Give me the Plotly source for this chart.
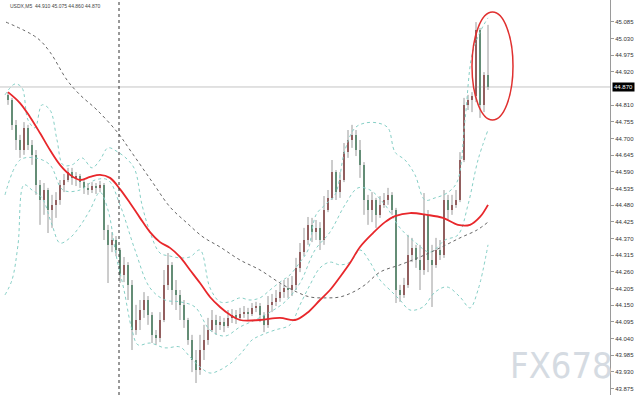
import plotly.graph_objects as go

# ---------------- data (USDX, M5) ----------------
first_open = 44.844
close = [44.827, 44.745, 44.695, 44.662, 44.735, 44.679, 44.646, 44.547, 44.497, 44.530,
         44.464, 44.481, 44.497, 44.547, 44.563, 44.589, 44.570, 44.576, 44.556, 44.537,
         44.530, 44.543, 44.537, 44.547, 44.398, 44.349, 44.365, 44.332, 44.250, 44.283,
         44.217, 44.068, 44.101, 44.134, 44.167, 44.118, 44.052, 44.042, 44.101, 44.217,
         44.283, 44.200, 44.184, 44.151, 44.101, 44.035, 43.969, 43.936, 44.002, 44.035,
         44.068, 44.101, 44.085, 44.094, 44.081, 44.108, 44.118, 44.108, 44.121, 44.127,
         44.121, 44.141, 44.147, 44.118, 44.085, 44.151, 44.161, 44.174, 44.193, 44.207,
         44.200, 44.217, 44.273, 44.325, 44.365, 44.415, 44.391, 44.405, 44.365, 44.464,
         44.504, 44.589, 44.523, 44.563, 44.655, 44.695, 44.712, 44.662, 44.613, 44.497,
         44.464, 44.497, 44.448, 44.481, 44.497, 44.514, 44.464, 44.200, 44.184, 44.217,
         44.316, 44.339, 44.299, 44.266, 44.448, 44.299, 44.283, 44.332, 44.316, 44.497,
         44.464, 44.481, 44.497, 44.629, 44.811, 44.827, 44.840, 45.058, 44.811, 44.910,
         44.870]
high = [44.853, 44.834, 44.761, 44.712, 44.754, 44.745, 44.695, 44.662, 44.563, 44.553,
        44.537, 44.514, 44.523, 44.563, 44.583, 44.603, 44.603, 44.589, 44.583, 44.563,
        44.553, 44.556, 44.553, 44.560, 44.553, 44.415, 44.391, 44.378, 44.339, 44.309,
        44.292, 44.233, 44.151, 44.167, 44.193, 44.180, 44.127, 44.068, 44.127, 44.266,
        44.322, 44.292, 44.233, 44.200, 44.167, 44.108, 44.052, 44.002, 44.052, 44.085,
        44.108, 44.134, 44.118, 44.114, 44.108, 44.134, 44.137, 44.134, 44.141, 44.147,
        44.141, 44.157, 44.161, 44.157, 44.127, 44.180, 44.187, 44.200, 44.220, 44.233,
        44.240, 44.246, 44.306, 44.355, 44.405, 44.441, 44.438, 44.431, 44.424, 44.510,
        44.530, 44.629, 44.596, 44.589, 44.685, 44.728, 44.745, 44.728, 44.695, 44.622,
        44.514, 44.523, 44.504, 44.510, 44.520, 44.537, 44.523, 44.471, 44.217, 44.240,
        44.382, 44.372, 44.349, 44.349, 44.520, 44.464, 44.349, 44.372, 44.365, 44.530,
        44.514, 44.514, 44.530, 44.655, 44.834, 44.844, 44.853, 45.084, 45.065, 44.919,
        45.075]
low = [44.811, 44.728, 44.662, 44.636, 44.646, 44.662, 44.613, 44.514, 44.415, 44.448,
       44.388, 44.405, 44.438, 44.481, 44.523, 44.556, 44.547, 44.543, 44.537, 44.517,
       44.514, 44.520, 44.517, 44.523, 44.365, 44.223, 44.325, 44.312, 44.223, 44.226,
       44.167, 44.002, 44.052, 44.068, 44.108, 44.085, 44.025, 44.019, 44.028, 44.094,
       44.200, 44.151, 44.134, 44.101, 44.075, 44.019, 43.929, 43.893, 43.920, 43.969,
       44.019, 44.061, 44.052, 44.068, 44.061, 44.075, 44.091, 44.088, 44.101, 44.108,
       44.101, 44.114, 44.127, 44.094, 44.061, 44.075, 44.127, 44.147, 44.161, 44.174,
       44.174, 44.180, 44.200, 44.259, 44.312, 44.349, 44.358, 44.365, 44.332, 44.349,
       44.457, 44.497, 44.497, 44.504, 44.556, 44.636, 44.669, 44.642, 44.570, 44.448,
       44.415, 44.424, 44.405, 44.438, 44.471, 44.481, 44.448, 44.157, 44.161, 44.174,
       44.207, 44.292, 44.273, 44.200, 44.250, 44.259, 44.144, 44.273, 44.299, 44.306,
       44.431, 44.448, 44.471, 44.490, 44.622, 44.794, 44.787, 44.820, 44.768, 44.787,
       44.860]

# moving averages / bands (bar index, price)
ma_red_x = [0, 3, 5.5, 8, 10.5, 13, 15.5, 18, 20.5, 23, 25.5, 28, 30.5, 33, 35.5, 38, 40.5, 43,
            45.5, 48, 50.5, 53, 55.5, 58, 63, 68, 71.75, 74.75, 78, 80.5, 83, 85.5, 88, 91.25,
            94.25, 96.75, 100.5, 104.75, 108.75, 112.5, 115.5, 118, 120]
ma_red_y = [44.853, 44.817, 44.771, 44.718, 44.662, 44.613, 44.580, 44.563, 44.573, 44.580,
            44.570, 44.533, 44.487, 44.438, 44.391, 44.358, 44.339, 44.309, 44.266, 44.223,
            44.177, 44.144, 44.118, 44.101, 44.101, 44.108, 44.101, 44.124, 44.167, 44.200,
            44.243, 44.289, 44.342, 44.388, 44.424, 44.444, 44.454, 44.448, 44.438, 44.415,
            44.415, 44.441, 44.481]
ma_slow_x = [-0.5, 7.25, 10.5, 14.75, 18, 22.25, 27.5, 30.5, 36.25, 40.5, 44.75, 48.75, 53, 58,
             63, 68, 72.25, 75.5, 79.75, 83, 86.25, 89.25, 93, 98, 103, 108, 113, 117.25, 120]
ma_slow_y = [45.084, 45.032, 44.985, 44.893, 44.844, 44.794, 44.718, 44.662, 44.553, 44.474,
             44.421, 44.375, 44.342, 44.299, 44.266, 44.223, 44.193, 44.177, 44.174, 44.177,
             44.193, 44.217, 44.259, 44.283, 44.309, 44.339, 44.372, 44.398, 44.424]
bb_up_x = [-0.75, 1.75, 3.5, 5, 6.75, 8.5, 10.5, 12.25, 13.75, 16, 18.5, 21, 23, 25, 27.5, 30,
           31.75, 33.5, 35.5, 38, 40.5, 43, 45.5, 48, 50.5, 53, 55.5, 58, 60.5, 63, 65.5, 68,
           70.5, 73, 75, 77, 79.25, 81.75, 84.25, 86.75, 89.25, 92.5, 95, 96.75, 99.25,
           101.75, 104.25, 106.75, 109.75, 112.25, 114.25, 116, 118, 120]
bb_up_y = [44.844, 44.880, 44.867, 44.761, 44.735, 44.811, 44.794, 44.695, 44.613, 44.613,
           44.636, 44.603, 44.629, 44.669, 44.655, 44.629, 44.596, 44.481, 44.391, 44.322,
           44.312, 44.306, 44.309, 44.332, 44.207, 44.161, 44.161, 44.174, 44.167, 44.174,
           44.200, 44.226, 44.250, 44.292, 44.332, 44.448, 44.481, 44.514, 44.662, 44.735,
           44.751, 44.751, 44.735, 44.655, 44.629, 44.580, 44.497, 44.504, 44.520, 44.556,
           44.761, 44.976, 45.051, 45.098]
bb_mid_x = [-0.75, 3, 6.75, 10.5, 13.75, 18, 21.75, 25, 28, 31.75, 35.5, 39.25, 43, 46.75, 50.5,
            54.25, 58, 61.75, 65.5, 69.25, 73, 76.75, 80.5, 84.25, 87.5, 90.5, 94.25, 98,
            101.75, 105.5, 109.25, 112.5, 115, 117.5, 120]
bb_mid_y = [44.514, 44.629, 44.636, 44.613, 44.530, 44.530, 44.563, 44.563, 44.481, 44.332,
            44.207, 44.167, 44.161, 44.144, 44.068, 44.048, 44.078, 44.101, 44.127, 44.161,
            44.223, 44.332, 44.391, 44.481, 44.537, 44.530, 44.481, 44.405, 44.358, 44.325,
            44.365, 44.382, 44.481, 44.629, 44.728]
bb_lo_x = [-0.75, 1, 2.5, 4, 6, 8.5, 11, 13, 15.5, 18, 20.5, 23, 25, 27, 29, 31, 32.5, 35.5,
           39.25, 43, 45.5, 48, 50.5, 53, 56, 58.5, 61, 63.5, 66.75, 70.5, 73, 75.5, 78, 80.5,
           83, 85.5, 88, 90.5, 93, 95.5, 98, 100.5, 103.75, 106.75, 109.75, 113, 115.5, 117.5,
           120]
bb_lo_y = [44.184, 44.233, 44.349, 44.547, 44.530, 44.504, 44.415, 44.355, 44.372, 44.411,
           44.464, 44.523, 44.464, 44.316, 44.200, 44.068, 44.019, 44.025, 44.009, 44.012,
           43.979, 43.946, 43.926, 43.936, 43.962, 43.995, 44.035, 44.052, 44.068, 44.085,
           44.151, 44.217, 44.273, 44.292, 44.283, 44.292, 44.332, 44.292, 44.233, 44.200,
           44.167, 44.134, 44.144, 44.193, 44.210, 44.177, 44.141, 44.200, 44.349]

tick_vals = [43.875, 43.930, 43.985, 44.040, 44.095, 44.150, 44.205, 44.260, 44.315, 44.370,
             44.425, 44.480, 44.535, 44.590, 44.645, 44.700, 44.755, 44.810, 44.920, 44.975,
             45.030, 45.085]
tick_text = ["43.875", "43.930", "43.985", "44.040", "44.095", "44.150", "44.205", "44.260",
             "44.315", "44.370", "44.425", "44.480", "44.535", "44.590", "44.645", "44.700",
             "44.755", "44.810", "44.920", "44.975", "45.030", "45.085"]
header = "USDX,M5  44.910 45.075 44.860 44.870"
last_price = 44.870
last_label = "44.870"
cursor_bar = 27.75
circle_box = (116, 126.25, 44.761, 45.117)

# ---------------- figure ----------------
opens = [first_open] + close[:-1]
idx = list(range(len(close)))
UP, DOWN, WICK = "#8a2424", "#2f8052", "#9a9a9a"

fig = go.Figure()

wx, wy = [], []
for i, h, l in zip(idx, high, low):
    wx += [i, i, None]
    wy += [l, h, None]
fig.add_trace(go.Scatter(x=wx, y=wy, mode="lines", line=dict(color=WICK, width=1),
                         hoverinfo="skip"))

fig.add_trace(go.Bar(
    x=idx,
    y=[max(abs(c - o), 0.002) for o, c in zip(opens, close)],
    base=[min(o, c) for o, c in zip(opens, close)],
    marker=dict(color=[UP if c > o else DOWN for o, c in zip(opens, close)], line_width=0),
    width=0.6,
))

teal = dict(color="#86cfc6", width=1, dash="dot", shape="spline")
for xs, ys in [(bb_up_x, bb_up_y), (bb_mid_x, bb_mid_y), (bb_lo_x, bb_lo_y)]:
    fig.add_trace(go.Scatter(x=xs, y=ys, mode="lines", line=teal))
fig.add_trace(go.Scatter(x=ma_slow_x, y=ma_slow_y, mode="lines",
                         line=dict(color="#666666", width=1, dash="dot", shape="spline")))
fig.add_trace(go.Scatter(x=ma_red_x, y=ma_red_y, mode="lines",
                         line=dict(color="#e8272b", width=1.8, shape="spline")))

fig.add_shape(type="line", xref="paper", x0=0, x1=1, yref="y", y0=last_price, y1=last_price,
              line=dict(color="#c4c4c4", width=1), layer="below")
fig.add_shape(type="line", xref="x", x0=cursor_bar, x1=cursor_bar, yref="paper", y0=0, y1=1,
              line=dict(color="#333333", width=1, dash="dot"))
fig.add_shape(type="circle", xref="x", yref="y", x0=circle_box[0], x1=circle_box[1],
              y0=circle_box[2], y1=circle_box[3], line=dict(color="#e0302f", width=1.5))

fig.add_annotation(xref="paper", yref="y", x=1, y=last_price, text=last_label,
                   showarrow=False, xanchor="left", xshift=2, bgcolor="#000000",
                   font=dict(color="#ffffff", size=6, family="Liberation Sans, Arial"),
                   borderpad=1)
fig.add_annotation(xref="paper", yref="paper", x=0.013, y=0.985, text=header, showarrow=False,
                   xanchor="left", yanchor="middle",
                   font=dict(color="#444444", size=5, family="Liberation Sans, Arial"))
fig.add_annotation(xref="paper", yref="paper", x=0.92, y=0.075, text="FX678", showarrow=False,
                   xanchor="center", yanchor="middle",
                   font=dict(color="#d5dbe2", size=36,
                             family="DejaVu Sans Condensed, Liberation Sans Narrow, Arial"))

fig.update_layout(
    width=640, height=400,
    margin=dict(l=0, r=30, t=0, b=5),
    paper_bgcolor="#ffffff", plot_bgcolor="#ffffff",
    showlegend=False, bargap=0,
    xaxis=dict(visible=False, range=[-2, 150.5], fixedrange=True),
    yaxis=dict(side="right", range=[43.8535, 45.157], tickvals=tick_vals, ticktext=tick_text,
               showgrid=False, zeroline=False, showline=True, linecolor="#9a9a9a", linewidth=1,
               ticks="outside", ticklen=3, tickcolor="#9a9a9a",
               tickfont=dict(size=6, color="#333333", family="Liberation Sans, Arial")),
)

fig.write_html("out.html", config={"displayModeBar": False},
               post_script="document.body.style.margin='0';document.body.style.overflow='hidden';")
